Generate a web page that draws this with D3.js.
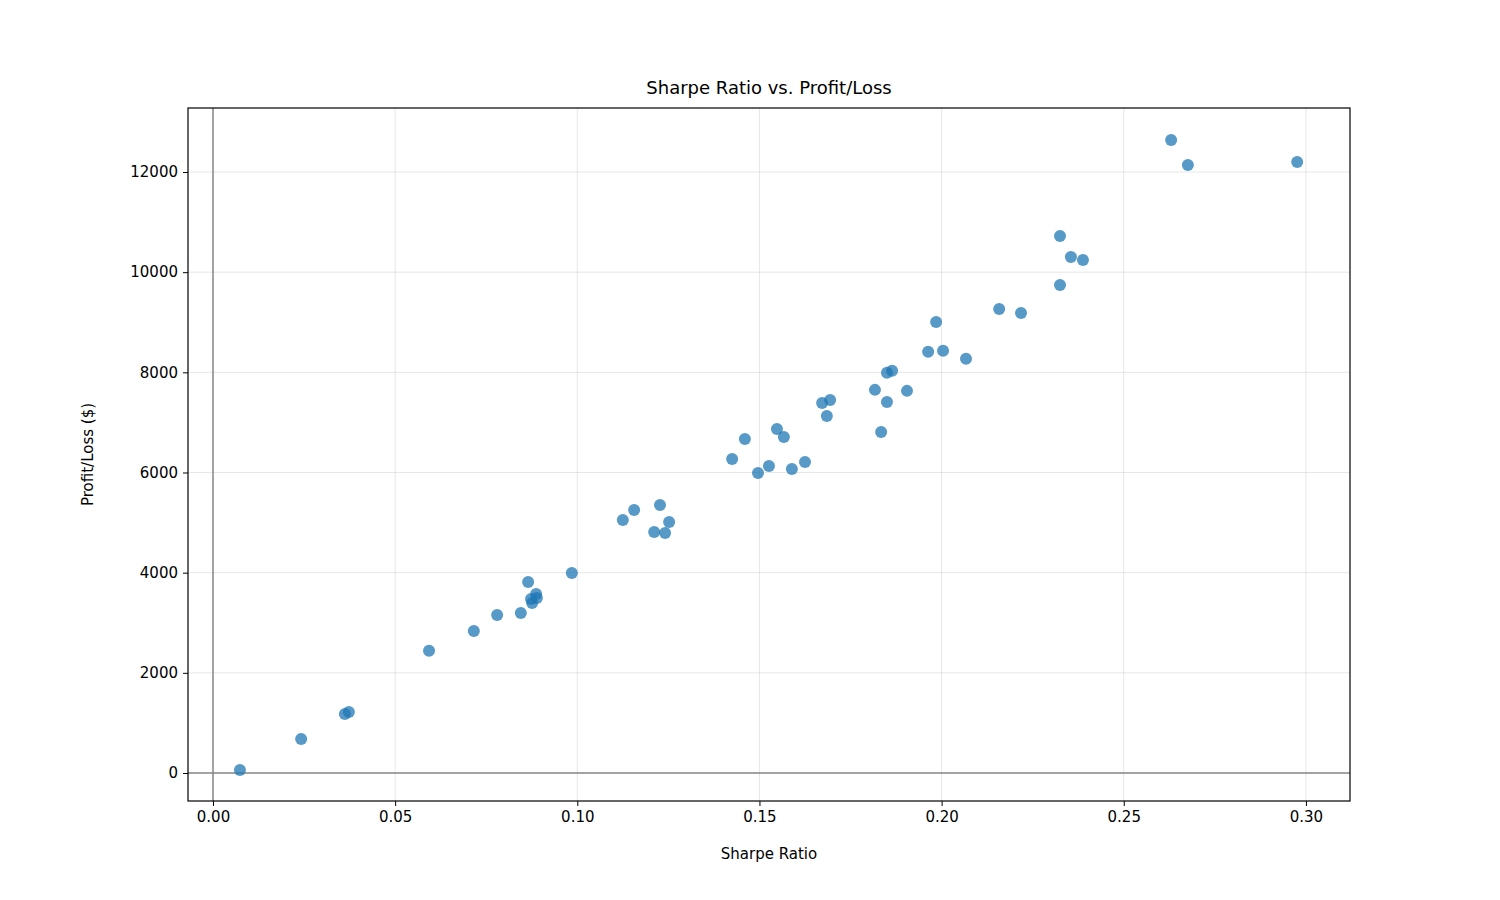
<!DOCTYPE html>
<html>
<head>
<meta charset="utf-8">
<script src="https://cdn.jsdelivr.net/npm/d3@7"></script>
<style>
body { margin: 0; background: #fff; }
text { font-family: "DejaVu Sans", sans-serif; }
</style>
</head>
<body>
<div id="chart"></div>
<script>
// data
sharpe = [0.0074, 0.0242, 0.0362, 0.0373, 0.0593, 0.0716, 0.0780, 0.0845, 0.0865, 0.0873,
          0.0876, 0.0887, 0.0889, 0.0985, 0.1125, 0.1156, 0.1211, 0.1227, 0.1241, 0.1252,
          0.1425, 0.1460, 0.1496, 0.1526, 0.1548, 0.1567, 0.1589, 0.1625, 0.1672, 0.1685,
          0.1694, 0.1817, 0.1834, 0.1850, 0.1850, 0.1864, 0.1905, 0.1963, 0.1985, 0.2004,
          0.2067, 0.2158, 0.2218, 0.2325, 0.2325, 0.2355, 0.2388, 0.2630, 0.2676, 0.2976];
profit = [60, 680, 1180, 1220, 2440, 2835, 3155, 3195, 3815, 3475,
          3395, 3575, 3495, 3995, 5050, 5250, 4810, 5350, 4790, 5010,
          6270, 6670, 5990, 6130, 6870, 6710, 6070, 6210, 7390, 7130,
          7450, 7650, 6810, 7410, 7990, 8030, 7630, 8410, 9005, 8430,
          8270, 9265, 9185, 9745, 10720, 10305, 10245, 12640, 12140, 12200];
xTicks = [0, 0.05, 0.10, 0.15, 0.20, 0.25, 0.30];
yTicks = [0, 2000, 4000, 6000, 8000, 10000, 12000];

width = 1500;
height = 900;
plotL = 188; plotR = 1350; plotT = 108; plotB = 801;

xScale = d3.scaleLinear().domain([-0.00686, 0.3121]).range([plotL, plotR]);
yScale = d3.scaleLinear().domain([-559, 13278]).range([plotB, plotT]);

svg = d3.select("#chart").append("svg")
    .attr("width", width)
    .attr("height", height);

// grid
svg.append("g").selectAll("line").data(xTicks).enter().append("line")
    .attr("x1", d => xScale(d)).attr("x2", d => xScale(d))
    .attr("y1", plotT).attr("y2", plotB)
    .attr("stroke", "#b0b0b0").attr("stroke-opacity", 0.3).attr("stroke-width", 1);
svg.append("g").selectAll("line").data(yTicks).enter().append("line")
    .attr("y1", d => yScale(d)).attr("y2", d => yScale(d))
    .attr("x1", plotL).attr("x2", plotR)
    .attr("stroke", "#b0b0b0").attr("stroke-opacity", 0.3).attr("stroke-width", 1);

// zero lines
svg.append("line")
    .attr("x1", xScale(0)).attr("x2", xScale(0)).attr("y1", plotT).attr("y2", plotB)
    .attr("stroke", "#808080").attr("stroke-opacity", 0.7).attr("stroke-width", 2);
svg.append("line")
    .attr("y1", yScale(0)).attr("y2", yScale(0)).attr("x1", plotL).attr("x2", plotR)
    .attr("stroke", "#808080").attr("stroke-opacity", 0.7).attr("stroke-width", 2);

// points
svg.append("g").selectAll("circle").data(sharpe).enter().append("circle")
    .attr("cx", d => xScale(d))
    .attr("cy", (d, i) => yScale(profit[i]))
    .attr("r", 6)
    .attr("fill", "#1f77b4")
    .attr("fill-opacity", 0.75);

// axes
xAxis = d3.axisBottom(xScale).tickValues(xTicks).tickFormat(d3.format(".2f")).tickSizeOuter(0).tickSize(5).tickPadding(5);
yAxis = d3.axisLeft(yScale).tickValues(yTicks).tickFormat(d3.format("d")).tickSizeOuter(0).tickSize(5).tickPadding(5);

gx = svg.append("g").attr("transform", `translate(0,${plotB})`).call(xAxis);
gy = svg.append("g").attr("transform", `translate(${plotL},0)`).call(yAxis);
[gx, gy].forEach(g => {
    g.select(".domain").remove();
    g.selectAll("text").style("font-size", "15px").attr("fill", "#000");
    g.selectAll("line").attr("stroke", "#000");
});

svg.append("rect")
    .attr("x", plotL).attr("y", plotT)
    .attr("width", plotR - plotL).attr("height", plotB - plotT)
    .attr("fill", "none").attr("stroke", "#000").attr("stroke-width", 1.2);

svg.append("text")
    .attr("x", (plotL + plotR) / 2).attr("y", 94)
    .attr("text-anchor", "middle")
    .style("font-size", "18px")
    .text("Sharpe Ratio vs. Profit/Loss");

svg.append("text")
    .attr("x", (plotL + plotR) / 2).attr("y", 859)
    .attr("text-anchor", "middle")
    .style("font-size", "15px")
    .text("Sharpe Ratio");

svg.append("text")
    .attr("transform", "rotate(-90)")
    .attr("x", -(plotT + plotB) / 2).attr("y", 93)
    .attr("text-anchor", "middle")
    .style("font-size", "15px")
    .text("Profit/Loss ($)");
</script>
</body>
</html>
